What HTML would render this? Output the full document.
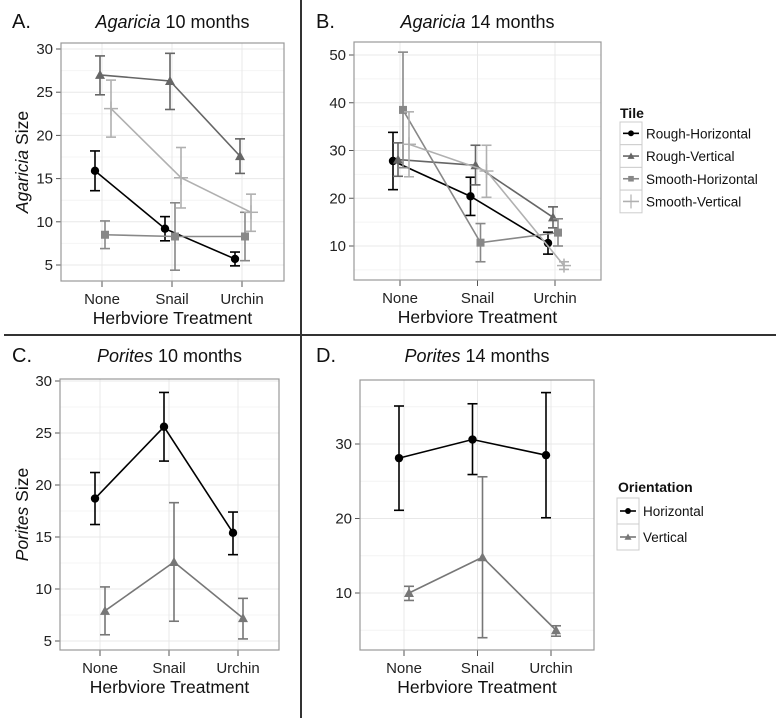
<!DOCTYPE html>
<html><head><meta charset="utf-8"><style>
html,body{margin:0;padding:0;background:#fff}
svg{display:block;font-family:"Liberation Sans",sans-serif}
</style></head><body>
<svg id="fig" width="776" height="718" viewBox="0 0 776 718">
<line x1="301" y1="0" x2="301" y2="718" stroke="#333" stroke-width="2"/>
<line x1="4" y1="335" x2="776" y2="335" stroke="#333" stroke-width="2"/>
</svg>
<script>
const categories = ["None","Snail","Urchin"];
const tileSeries = ["Rough-Horizontal","Rough-Vertical","Smooth-Horizontal","Smooth-Vertical"];
const orientSeries = ["Horizontal","Vertical"];
// Panel A: mean, low, high per category
const aMean = [[15.9,9.2,5.7],[27,26.3,17.6],[8.5,8.3,8.3],[23.1,15.1,11.1]];
const aLow  = [[13.6,7.8,4.9],[24.7,23,15.6],[6.9,4.4,5.5],[19.8,11.6,8.9]];
const aHigh = [[18.2,10.6,6.5],[29.2,29.5,19.6],[10.1,12.2,11.1],[26.4,18.6,13.2]];
// Panel B
const bMean = [[27.8,20.4,10.6],[28.1,26.9,16],[38.5,10.7,12.8],[31.3,25.7,5.9]];
const bLow  = [[21.8,16.4,8.3],[24.6,22.8,13.8],[26.4,6.7,10],[24.5,20.2,5.1]];
const bHigh = [[33.8,24.4,12.9],[31.6,31.1,18.2],[50.6,14.7,15.7],[38.1,31.1,6.7]];
// Panel C
const cMean = [[18.7,25.6,15.4],[7.9,12.6,7.2]];
const cLow  = [[16.2,22.3,13.3],[5.6,6.9,5.2]];
const cHigh = [[21.2,28.9,17.4],[10.2,18.3,9.1]];
// Panel D
const dMean = [[28.1,30.6,28.5],[10,14.8,5]];
const dLow  = [[21.1,25.9,20.1],[9,4,4.2]];
const dHigh = [[35.1,35.4,36.9],[10.9,25.6,5.6]];
const aTicks = [5,10,15,20,25,30];
const bTicks = [10,20,30,40,50];
const cTicks = [5,10,15,20,25,30];
const dTicks = [10,20,30];

const NS="http://www.w3.org/2000/svg";
const svg=document.getElementById('fig');
function mk(tag,attrs,parent){const e=document.createElementNS(NS,tag);for(const k in attrs)e.setAttribute(k,attrs[k]);(parent||svg).appendChild(e);return e;}
function txt(s,attrs,parent){const e=mk('text',attrs,parent);e.textContent=s;return e;}

function marker(g,shape,x,y,col){
  if(shape==='circle')return mk('circle',{cx:x,cy:y,r:4.2,fill:col},g);
  if(shape==='tri')return mk('polygon',{points:`${x},${y-5} ${x-5},${y+4} ${x+5},${y+4}`,fill:col},g);
  if(shape==='square')return mk('rect',{x:x-4,y:y-4,width:8,height:8,fill:col},g);
  if(shape==='plus'){mk('line',{x1:x-7,y1:y,x2:x+7,y2:y,stroke:col,'stroke-width':1.5},g);return mk('line',{x1:x,y1:y-7,x2:x,y2:y+7,stroke:col,'stroke-width':1.5},g);}
}

function panel(o){
  const g=mk('g',{});
  
  
  const yS=v=>o.y0+(v-o.v0)*(o.y1-o.y0)/(o.v1-o.v0);
  const xS=i=>o.cx[0]+i*(o.cx[1]-o.cx[0]);
  for(let k=0;k<o.ticks.length+1;k++){
    const v=o.ticks[0]+(k-0.5)*(o.ticks[1]-o.ticks[0]);
    const y=yS(v); if(y>o.top&&y<o.bot) mk('line',{x1:o.left,x2:o.right,y1:y,y2:y,stroke:'#f4f4f4','stroke-width':1},g);
  }
  o.ticks.forEach(v=>{const y=yS(v);mk('line',{x1:o.left,x2:o.right,y1:y,y2:y,stroke:'#e8e8e8','stroke-width':1},g);
    mk('line',{x1:o.left-5,x2:o.left,y1:y,y2:y,stroke:'#555','stroke-width':1},g);
    const t=txt(String(v),{x:o.left-8,y:y+5,'font-size':15,'text-anchor':'end',fill:'#222'},g);
    });
  categories.forEach((c,i)=>{const x=xS(i);mk('line',{x1:x,x2:x,y1:o.top,y2:o.bot,stroke:'#e8e8e8','stroke-width':1},g);
    mk('line',{x1:x,x2:x,y1:o.bot,y2:o.bot+6,stroke:'#555','stroke-width':1},g);
    const t=txt(c,{x:x,y:o.bot+23,'font-size':15,'text-anchor':'middle',fill:'#222'},g);
    });
  const fr=mk('rect',{x:o.left,y:o.top,width:o.right-o.left,height:o.bot-o.top,fill:'none',stroke:'#999','stroke-width':1.2},g);
  
  o.mean.forEach((ser,s)=>{
    const sg=mk('g',{},g);
    
    
    const col=o.cols[s],dx=o.dodge[s];
    const pts=ser.map((v,i)=>[xS(i)+dx,yS(v)]);
    mk('polyline',{points:pts.map(p=>p.join(',')).join(' '),fill:'none',stroke:col,'stroke-width':1.6},sg);
    ser.forEach((v,i)=>{const x=xS(i)+dx,yl=yS(o.low[s][i]),yh=yS(o.high[s][i]);
      mk('line',{x1:x,x2:x,y1:yl,y2:yh,stroke:col,'stroke-width':1.6},sg);
      mk('line',{x1:x-5,x2:x+5,y1:yl,y2:yl,stroke:col,'stroke-width':1.6},sg);
      mk('line',{x1:x-5,x2:x+5,y1:yh,y2:yh,stroke:col,'stroke-width':1.6},sg);
      const m=marker(sg,o.shapes[s],x,yS(v),col);
      });
  });
  const L=txt(o.letter,{x:o.lx,y:o.ty,'font-size':20,fill:'#111'},g);
  
  const T=mk('text',{x:(o.left+o.right)/2,y:o.ty,'font-size':18,'text-anchor':'middle',fill:'#111'},g);
  
  const ti=mk('tspan',{'font-style':'italic'},T);ti.textContent=o.genus;
  const t2=mk('tspan',{},T);t2.textContent=' '+o.rest;
  const X=txt('Herbviore Treatment',{x:(o.left+o.right)/2,y:o.bot+43,'font-size':17.5,'text-anchor':'middle',fill:'#111'},g);
  
  if(o.ytitle){const yc=(o.top+o.bot)/2;
    const Y=mk('text',{x:0,y:0,transform:`translate(28,${yc}) rotate(-90)`,'font-size':17.5,'text-anchor':'middle',fill:'#111'},g);
    
    const yi=mk('tspan',{'font-style':'italic'},Y);yi.textContent=o.genus;
    const y2=mk('tspan',{},Y);y2.textContent=' Size';}
}
const tileCols=['#000','#666','#888','#b0b0b0'],tileShapes=['circle','tri','square','plus'],tileDodge=[-7,-2,3,9];
panel({name:'panel-a',letter:'A.',genus:'Agaricia',rest:'10 months',ytitle:true,lx:12,ty:28,left:61,right:284,top:43,bot:281,
  v0:30,y0:49,v1:5,y1:265,cx:[102,172],ticks:aTicks,mean:aMean,low:aLow,high:aHigh,series:tileSeries,cols:tileCols,shapes:tileShapes,dodge:tileDodge});
panel({name:'panel-b',letter:'B.',genus:'Agaricia',rest:'14 months',ytitle:false,lx:316,ty:28,left:354,right:601,top:42,bot:280,
  v0:50,y0:55,v1:10,y1:246,cx:[400,477.5],ticks:bTicks,mean:bMean,low:bLow,high:bHigh,series:tileSeries,cols:tileCols,shapes:tileShapes,dodge:tileDodge});
const orCols=['#000','#777'],orShapes=['circle','tri'],orDodge=[-5,5];
panel({name:'panel-c',letter:'C.',genus:'Porites',rest:'10 months',ytitle:true,lx:12,ty:362,left:60,right:279,top:379,bot:650,
  v0:30,y0:381,v1:5,y1:641,cx:[100,169],ticks:cTicks,mean:cMean,low:cLow,high:cHigh,series:orientSeries,cols:orCols,shapes:orShapes,dodge:orDodge});
panel({name:'panel-d',letter:'D.',genus:'Porites',rest:'14 months',ytitle:false,lx:316,ty:362,left:360,right:594,top:380,bot:650,
  v0:30,y0:444,v1:10,y1:593,cx:[404,477.5],ticks:dTicks,mean:dMean,low:dLow,high:dHigh,series:orientSeries,cols:orCols,shapes:orShapes,dodge:orDodge});

function legend(name,title,tx,ty,items,cols,shapes,kx,ky,kh){
  const g=mk('g',{});
  
  
  txt(title,{x:tx,y:ty,'font-size':14,'font-weight':'bold',fill:'#111'},g);
  items.forEach((it,i)=>{const y=ky+i*kh;
    const e=mk('g',{},g);
    
    
    mk('rect',{x:kx,y:y,width:22,height:kh,fill:'#fff',stroke:'#ccc','stroke-width':1},e);
    mk('line',{x1:kx+3,x2:kx+19,y1:y+kh/2,y2:y+kh/2,stroke:cols[i],'stroke-width':1.6},e);
    if(shapes[i]==='plus'){mk('line',{x1:kx+11,x2:kx+11,y1:y+kh/2-7,y2:y+kh/2+7,stroke:cols[i],'stroke-width':1.2},e);}
    else marker(e,shapes[i],kx+11,y+kh/2,cols[i]).setAttribute('transform',`translate(${kx+11},${y+kh/2}) scale(0.7) translate(${-(kx+11)},${-(y+kh/2)})`);
    txt(it,{x:kx+26,y:y+kh/2+5,'font-size':13.5,fill:'#111'},e);});
}
legend('tile-legend','Tile',620,118,tileSeries,tileCols,tileShapes,620,122,22.7);
legend('orientation-legend','Orientation',618,492,orientSeries,orCols,orShapes,617,498,26);
</script>
</body></html>
